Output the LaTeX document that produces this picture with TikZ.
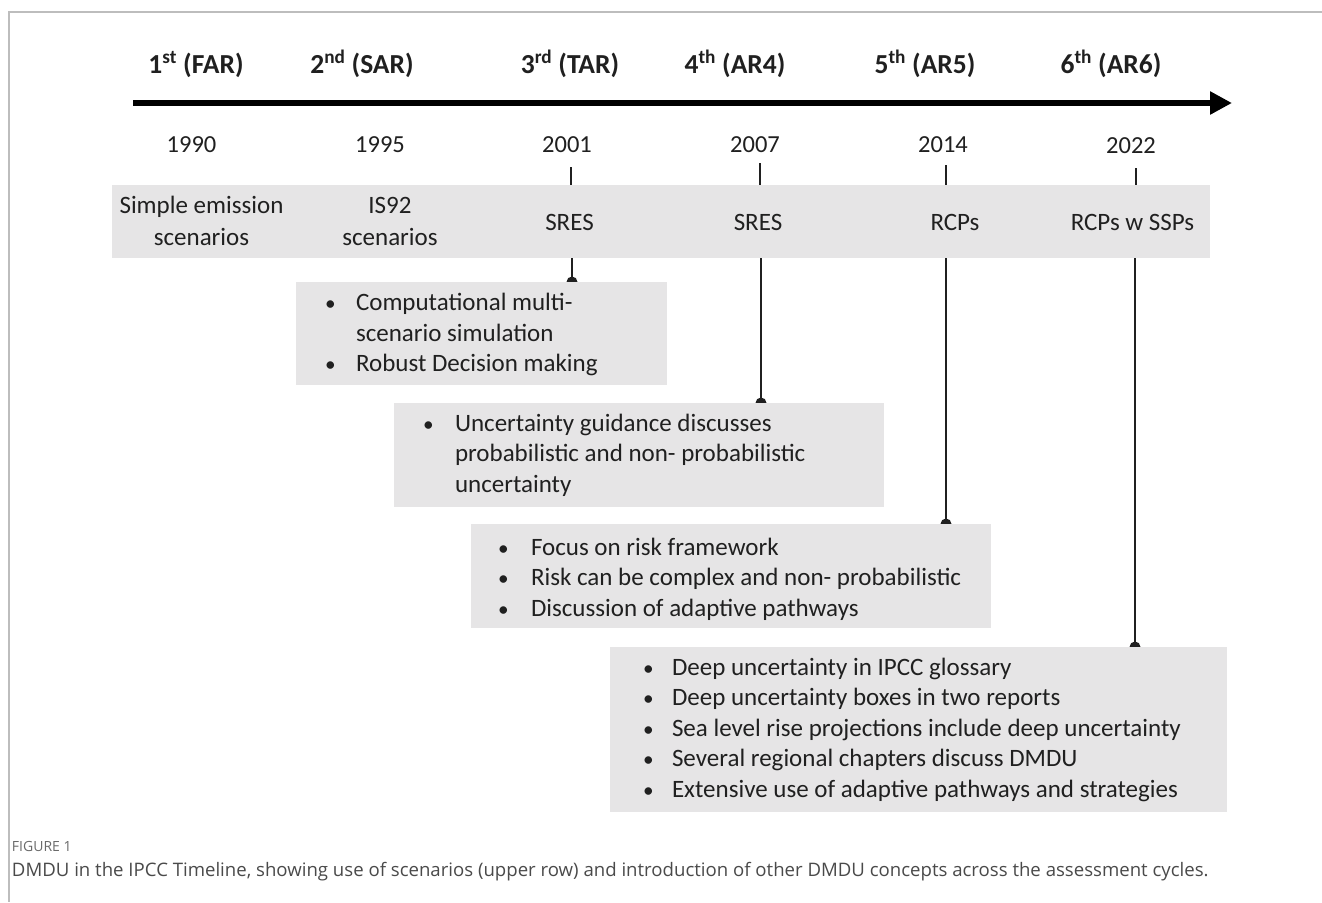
\documentclass[tikz,border=0pt]{standalone}
\usepackage{fontspec}
\setmainfont{Carlito}
\newfontfamily\capfont{Open Sans}
\usetikzlibrary{arrows.meta}
\definecolor{boxgray}{HTML}{E6E5E6}
\definecolor{txt}{HTML}{202020}
\definecolor{framegray}{HTML}{BDBDBD}
\definecolor{capgray}{HTML}{4A4A4A}
\definecolor{figgray}{HTML}{6A6A6A}
\newlength\bw
\newcommand\setbw[1]{\global\bw=#1\relax}
\newcommand\bulitem[1]{\makebox[\bw][l]{\scalebox{0.85}{\textbullet}}#1}
\pgfdeclarelayer{back}
\pgfdeclarelayer{bg}
\pgfsetlayers{back,bg,main}
\begin{document}
\begin{tikzpicture}[x=1pt,y=-1pt,
  every node/.style={inner sep=0pt, outer sep=0pt, text=txt},
  head/.style={anchor=base, font=\fontsize{27.5}{32}\selectfont\bfseries},
  year/.style={anchor=base, font=\fontsize{24.5}{30}\selectfont},
  bandtxt/.style={align=center, font=\fontsize{25}{32}\selectfont},
  gbox/.style={fill=boxgray, draw=none, anchor=north west},
  btxt/.style={anchor=west, align=left, font=\fontsize{25}{30.5}\selectfont},
  tickline/.style={draw=txt, line width=1.6pt},
  conn/.style={draw=txt, line width=1.8pt},
  frameline/.style={draw=framegray, line width=1.2pt}]
\useasboundingbox (0,0) rectangle (1322,902);
\begin{pgfonlayer}{back}
\fill[white] (0,0) rectangle (1322,902);
\end{pgfonlayer}
% frame
\draw[frameline] (1322,12) -- (9,12) -- (9,902);
% headings
\node[head] (h1) at (196,73) {1\textsuperscript{st} (FAR)};
\node[head] (h2) at (362,73) {2\textsuperscript{nd} (SAR)};
\node[head] (h3) at (570,73) {3\textsuperscript{rd} (TAR)};
\node[head] (h4) at (735,73) {4\textsuperscript{th} (AR4)};
\node[head] (h5) at (925,73) {5\textsuperscript{th} (AR5)};
\node[head] (h6) at (1111,73) {6\textsuperscript{th} (AR6)};
% timeline arrow
\coordinate (tl0) at (133,103);
\coordinate (tl1) at (1232,103);
\draw[line width=6.5pt, -{Triangle[length=22pt,width=22pt]}] (tl0) -- (tl1);
% years
\node[year] (y1) at (191.5,152) {1990};
\node[year] (y2) at (380,152) {1995};
\node[year] (y3) at (567,152) {2001};
\node[year] (y4) at (755,152) {2007};
\node[year] (y5) at (943,152) {2014};
\node[year] (y6) at (1131,153) {2022};
% scenario band
\node[fill=boxgray, minimum width=1098pt, minimum height=73pt, anchor=north west] (band) at (112,185) {};
\node[bandtxt, anchor=base] (s1) at (201.5,245) {Simple emission\\scenarios};
\node[bandtxt, anchor=base] (s2) at (390,245) {IS92\\scenarios};
\node[bandtxt, anchor=base] (s3) at (569.5,230) {SRES};
\node[bandtxt, anchor=base] (s4) at (758,230) {SRES};
\node[bandtxt, anchor=base] (s5) at (955,230) {RCPs};
\node[bandtxt, anchor=base] (s6) at (1132.5,230) {RCPs w SSPs};
% ticks
\coordinate (t3) at (571,167);
\coordinate (t4) at (760,163);
\coordinate (t5) at (946,165);
\coordinate (t6) at (1136,168);
\foreach \t in {t3,t4,t5,t6}{\draw[tickline] (\t) -- (\t |- band.north);}
% concept boxes
\node[gbox, minimum width=371pt, minimum height=103pt] (b1) at (296,282) {};
\node[btxt, xshift=29pt, yshift=-1pt] (b1t) at (b1.west)
  {\setbw{31pt}\bulitem{Computational multi-}\\\hspace*{\bw}scenario simulation\\\bulitem{Robust Decision making}};
\node[gbox, minimum width=490pt, minimum height=104pt] (b2) at (394,403) {};
\node[btxt, xshift=29pt] (b2t) at (b2.west)
  {\setbw{32pt}\bulitem{Uncertainty guidance discusses}\\\hspace*{\bw}probabilistic and non- probabilistic\\\hspace*{\bw}uncertainty};
\node[gbox, minimum width=520pt, minimum height=104pt] (b3) at (471,524) {};
\node[btxt, xshift=27pt, yshift=-3pt] (b3t) at (b3.west)
  {\setbw{33pt}\bulitem{Focus on risk framework}\\\bulitem{Risk can be complex and non- probabilistic}\\\bulitem{Discussion of adaptive pathways}};
\node[gbox, minimum width=617pt, minimum height=165pt] (b4) at (610,647) {};
\node[btxt, xshift=33pt] (b4t) at (b4.west)
  {\setbw{29pt}\bulitem{Deep uncertainty in IPCC glossary}\\\bulitem{Deep uncertainty boxes in two reports}\\\bulitem{Sea level rise projections include deep uncertainty}\\\bulitem{Several regional chapters discuss DMDU}\\\bulitem{Extensive use of adaptive pathways and strategies}};
% connectors
\coordinate (c3) at (572,0);
\coordinate (c4) at (761,0);
\coordinate (c5) at (946,0);
\coordinate (c6) at (1135,0);
\begin{pgfonlayer}{bg}
\foreach \c/\b in {c3/b1,c4/b2,c5/b3,c6/b4}{
  \draw[conn] (\c |- band.south) -- (\c |- \b.north);
  \fill[txt] (\c |- \b.north) circle (5.5pt);
}
\end{pgfonlayer}
% caption
\node[anchor=base west, text=figgray, font=\capfont\fontsize{14}{16}\selectfont] (fig) at (12,851) {FIGURE 1};
\node[anchor=base west, text=capgray, font=\capfont\fontsize{18.6}{22}\selectfont] (cap) at (12,876)
  {DMDU in the IPCC Timeline, showing use of scenarios (upper row) and introduction of other DMDU concepts across the assessment cycles.};
\end{tikzpicture}
\end{document}
